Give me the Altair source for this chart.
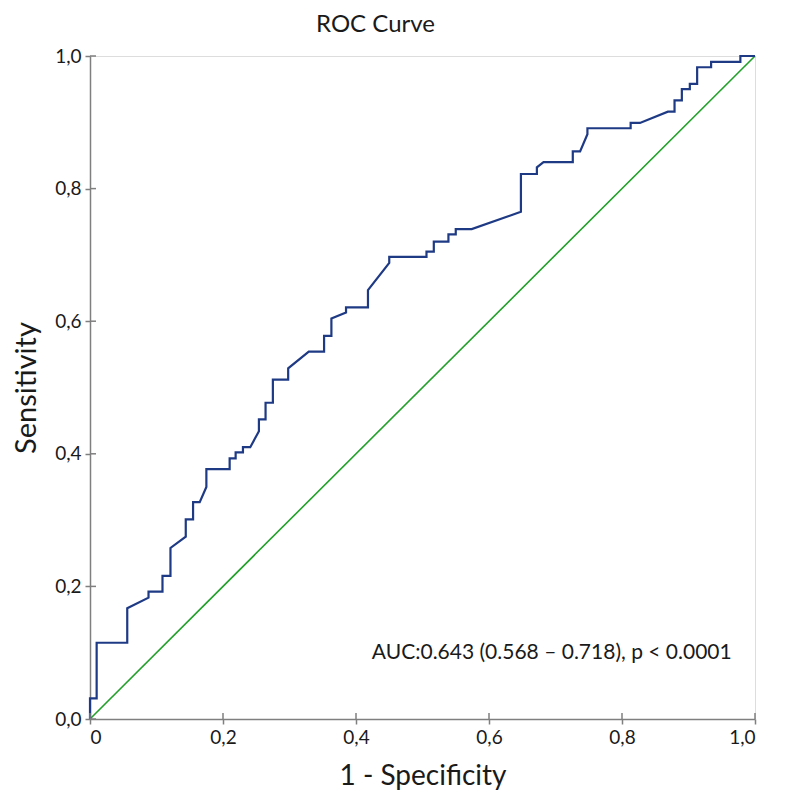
import altair as alt
import pandas as pd

# ROC curve points (1 - specificity, sensitivity)
fpr = [0, 0, 0.010, 0.010, 0.056, 0.056, 0.088, 0.088, 0.109, 0.109, 0.121, 0.121,
       0.144, 0.144, 0.155, 0.155, 0.165, 0.175, 0.175, 0.210, 0.210, 0.219, 0.219,
       0.230, 0.230, 0.241, 0.254, 0.254, 0.264, 0.264, 0.275, 0.275, 0.298, 0.298,
       0.329, 0.352, 0.352, 0.363, 0.363, 0.385, 0.385, 0.418, 0.418, 0.450, 0.450,
       0.506, 0.506, 0.517, 0.517, 0.539, 0.539, 0.550, 0.550, 0.574, 0.648, 0.648,
       0.672, 0.672, 0.682, 0.726, 0.726, 0.737, 0.748, 0.748, 0.813, 0.813, 0.827,
       0.869, 0.879, 0.879, 0.890, 0.890, 0.902, 0.902, 0.913, 0.913, 0.934, 0.934,
       0.978, 0.978, 1.0]
tpr = [0, 0.031, 0.031, 0.115, 0.115, 0.167, 0.183, 0.192, 0.192, 0.216, 0.216, 0.258,
       0.275, 0.301, 0.301, 0.327, 0.327, 0.350, 0.377, 0.377, 0.393, 0.393, 0.402,
       0.402, 0.410, 0.410, 0.434, 0.452, 0.452, 0.477, 0.477, 0.512, 0.512, 0.529,
       0.554, 0.554, 0.578, 0.578, 0.604, 0.613, 0.621, 0.621, 0.647, 0.688, 0.697,
       0.697, 0.705, 0.705, 0.720, 0.720, 0.731, 0.731, 0.739, 0.739, 0.765, 0.822,
       0.822, 0.832, 0.840, 0.840, 0.856, 0.856, 0.882, 0.891, 0.891, 0.899, 0.899,
       0.916, 0.916, 0.933, 0.933, 0.950, 0.950, 0.958, 0.958, 0.983, 0.983, 0.991,
       0.991, 1.0, 1.0]

diag_x = [0, 1]
diag_y = [0, 1]

tick_values = [0, 0.2, 0.4, 0.6, 0.8, 1.0]

auc_label = "AUC:0.643 (0.568 \u2013 0.718), p < 0.0001"
title_text = "ROC Curve"
x_title = "1 - Specificity"
y_title = "Sensitivity"

FONT = "Lato"
AXIS_COLOR = "#7f7f7f"
TEXT_COLOR = "#1a1a1a"

roc_df = pd.DataFrame({"fpr": fpr, "tpr": tpr, "order": list(range(len(fpr)))})
diag_df = pd.DataFrame({"fpr": diag_x, "tpr": diag_y})
ticks_df = pd.DataFrame({"v": tick_values})

xscale = alt.Scale(domain=[0, 1], nice=False, zero=False)
yscale = alt.Scale(domain=[0, 1], nice=False, zero=False)

x_axis = alt.Axis(
    title=x_title, values=tick_values, grid=False,
    labelExpr="datum.value == 0 ? '0' : replace(format(datum.value, '.1f'), '.', ',')",
    labelFont=FONT, labelFontSize=19, labelColor=TEXT_COLOR, labelPadding=4,
    titleFont=FONT, titleFontSize=28, titleFontWeight="normal", titleColor=TEXT_COLOR,
    titlePadding=15, tickSize=5, tickColor=AXIS_COLOR, tickWidth=1.5,
    domainColor=AXIS_COLOR, domainWidth=1.5,
)
y_axis = alt.Axis(
    title=y_title, values=tick_values, grid=False,
    labelExpr="replace(format(datum.value, '.1f'), '.', ',')",
    labelFont=FONT, labelFontSize=19, labelColor=TEXT_COLOR, labelPadding=4,
    titleFont=FONT, titleFontSize=29, titleFontWeight="normal", titleColor=TEXT_COLOR,
    titlePadding=13, tickSize=5, tickColor=AXIS_COLOR, tickWidth=1.5,
    domainColor=AXIS_COLOR, domainWidth=1.5,
)

diag = alt.Chart(diag_df).mark_line(color="#22a02a", strokeWidth=1.6).encode(
    x=alt.X("fpr:Q", scale=xscale, axis=x_axis),
    y=alt.Y("tpr:Q", scale=yscale, axis=y_axis),
)

roc = alt.Chart(roc_df).mark_line(color="#1f3a85", strokeWidth=2.2).encode(
    x=alt.X("fpr:Q", scale=xscale),
    y=alt.Y("tpr:Q", scale=yscale),
    order="order:Q",
)

# inward half of the crossing tick marks
yticks_in = alt.Chart(ticks_df).mark_rule(color=AXIS_COLOR, strokeWidth=1.5).encode(
    y=alt.Y("v:Q", scale=yscale),
    x=alt.value(0), x2=alt.value(6),
)
xticks_in = alt.Chart(ticks_df).mark_rule(color=AXIS_COLOR, strokeWidth=1.5).encode(
    x=alt.X("v:Q", scale=xscale),
    y=alt.value(663), y2=alt.value(657),
)

auc_text = alt.Chart(pd.DataFrame({"t": [auc_label]})).mark_text(
    align="right", baseline="middle", font=FONT, fontSize=21, color=TEXT_COLOR
).encode(
    x=alt.datum(0.965, scale=xscale),
    y=alt.datum(0.099, scale=yscale),
    text="t:N",
)

chart = alt.layer(diag, roc, yticks_in, xticks_in, auc_text).properties(
    width=665, height=663,
    padding={"left": 4, "top": 5, "right": 5, "bottom": 8},
    title=alt.TitleParams(title_text, font=FONT, fontSize=24, fontWeight="normal",
                          color=TEXT_COLOR, anchor="middle", dx=-47, offset=10),
).configure_view(
    stroke=AXIS_COLOR, strokeWidth=1.5
).configure(background="white")

chart.save("out.html", embed_options={"renderer": "svg", "actions": False})
